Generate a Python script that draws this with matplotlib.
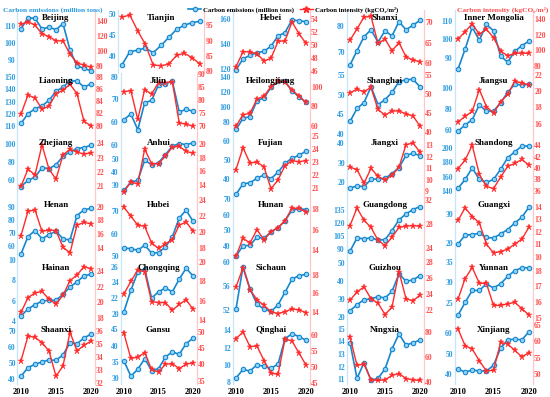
import matplotlib
matplotlib.use('Agg')
import matplotlib.pyplot as plt
from matplotlib.lines import Line2D

plt.rcParams['font.family'] = ['Liberation Serif', 'DejaVu Serif']
plt.rcParams['font.weight'] = 'bold'

# ---------------- data ----------------
years = [2010, 2011, 2012, 2013, 2014, 2015, 2016, 2017, 2018, 2019, 2020]
provinces = ['Beijing', 'Tianjin', 'Hebei', 'Shanxi', 'Inner Mongolia',
             'Liaoning', 'Jilin', 'Heilongjiang', 'Shanghai', 'Jiangsu',
             'Zhejiang', 'Anhui', 'Fujian', 'Jiangxi', 'Shandong',
             'Henan', 'Hubei', 'Hunan', 'Guangdong', 'Guangxi',
             'Hainan', 'Chongqing', 'Sichaun', 'Guizhou', 'Yunnan',
             'Shaanxi', 'Gansu', 'Qinghai', 'Ningxia', 'Xinjiang']
xtick_labels = [2010, 2015, 2020]

# carbon emissions (million tons) and carbon intensity (kgCO2/m2)
beijing_em = [108.5, 114.8, 114.8, 108.3, 109.4, 107.9, 111.5, 95.7, 86.2, 84.7, 83.3]
beijing_ci = [135.3, 138.6, 134.4, 122.7, 119, 113.3, 113.3, 95.5, 83.8, 80.9, 78.1]
tianjin_em = [37.9, 41, 41.4, 41.9, 40.8, 42.5, 44.4, 46.3, 47.3, 47.9, 48.2]
tianjin_ci = [97.6, 98.4, 93.3, 88.8, 82.1, 81.8, 82.4, 85.2, 85.9, 84.4, 82.4]
hebei_em = [119, 128, 130.8, 133, 134, 138.2, 146.4, 149.2, 159.4, 158.6, 158]
hebei_ci = [46.7, 49, 49, 48.7, 47.6, 48, 50.6, 50.7, 53.6, 51.8, 50.3]
shanxi_em = [64.9, 70.4, 75.9, 78.6, 73.8, 78.2, 76.2, 81.8, 78.6, 80.4, 82.3]
shanxi_ci = [65.6, 68.4, 71.3, 71.5, 64.8, 65.9, 63.0, 65.0, 61.5, 60.7, 60.3]
innermongolia_em = [84, 94.8, 106.6, 99.5, 108.1, 104.7, 91, 87.8, 93.5, 96.7, 99]
innermongolia_ci = [114.3, 124.1, 134, 120.7, 127.1, 116.4, 99, 93, 96, 96.5, 96]
liaoning_em = [112, 120, 124, 126.5, 131, 138.5, 142, 147, 147, 142, 144.5]
liaoning_ci = [81.9, 85, 84.5, 82.7, 83.2, 85.2, 85.8, 86.75, 85.2, 80.7, 80]
jilin_em = [61, 63.5, 56.5, 68.5, 69.5, 76.5, 77, 78, 64.5, 65.5, 64.8]
jilin_ci = [83.2, 83.6, 72.6, 84, 82.3, 86.7, 86.7, 87, 71.3, 70.8, 70]
heilongjiang_em = [70, 84.5, 87, 108, 112, 126, 134, 134, 121, 113.5, 106]
heilongjiang_ci = [60, 71.5, 73, 87.5, 90.5, 100, 105.5, 104.5, 96.5, 90.5, 84]
shanghai_em = [43.2, 46.5, 48, 52, 47.5, 48.7, 50.6, 53.3, 53.8, 53.9, 52]
shanghai_ci = [50.3, 51.2, 50.6, 51.7, 45.9, 44.4, 45.5, 45.5, 44.7, 44.2, 41.5]
jiangsu_em = [59, 65, 70, 84, 78, 78, 86, 96, 103.5, 103, 103.5]
jiangsu_ci = [16.2, 16.9, 17.5, 20.2, 18.1, 17.3, 18.7, 19.6, 21.25, 21.0, 20.8]
zhejiang_em = [52.6, 59.3, 63, 73.4, 72.3, 76.7, 86, 90.8, 94.5, 95.6, 98.2]
zhejiang_ci = [21, 22.2, 21.8, 23.9, 22.2, 21.5, 23.2, 23.6, 23.4, 23.25, 23.35]
anhui_em = [26.3, 32.5, 33.8, 48.8, 45.5, 47, 53, 59.3, 61.3, 60.5, 61.8]
anhui_ci = [13.1, 14.5, 14.2, 19.2, 17.1, 17.1, 18.2, 19.5, 19.6, 18.9, 18.6]
fujian_em = [31.7, 37.2, 37.8, 40.2, 41.9, 40, 43.3, 48, 50.8, 52.2, 54.5]
fujian_ci = [22.4, 24.1, 22.9, 23.0, 22.6, 20.9, 21.6, 22.7, 23.1, 23.0, 23.1]
jiangxi_em = [17, 18.2, 17.8, 21.5, 21.8, 22, 24.5, 27.5, 33.8, 34.9, 33.7]
jiangxi_ci = [11.1, 10.9, 9.7, 11.0, 10.3, 10.0, 10.4, 11.1, 13.05, 13.2, 12.4]
shandong_em = [144, 156, 172, 156, 152, 156, 170, 186, 194, 202, 202]
shandong_ci = [39.9, 41.4, 44, 38.9, 36.8, 36.4, 38.4, 40.3, 40.8, 41.5, 40.5]
henan_em = [54.2, 67.3, 71.9, 65.6, 68.8, 71.4, 65.6, 64.8, 83.2, 87.5, 88.7]
henan_ci = [15.8, 19.3, 19.5, 16.4, 16.6, 16.5, 14.1, 13.3, 17.3, 17.7, 17.5]
hubei_em = [53.5, 53.3, 52.5, 54.8, 51.3, 51.5, 54, 58.5, 67, 70.5, 65.5]
hubei_ci = [23.1, 22.0, 20.85, 20.7, 18.6, 17.9, 18.5, 19.0, 20.85, 21.25, 20.1]
hunan_em = [33.4, 40, 40.2, 45.6, 44.7, 49, 51.5, 56, 62.8, 63.7, 63.2]
hunan_ci = [13.4, 15.15, 14.7, 16.0, 15.0, 15.8, 16.2, 16.9, 18.1, 18.1, 17.75]
guangdong_em = [87.3, 102.6, 101.5, 102.6, 100.3, 100.6, 111, 123.2, 130, 135, 138.4]
guangdong_ci = [27.7, 30.6, 28.6, 27.4, 25.3, 24.4, 25.8, 27.4, 27.6, 27.7, 27.6]
guangxi_em = [19.8, 22.8, 23, 23.4, 22, 21.8, 23.2, 24.7, 26.9, 28.9, 32.3]
guangxi_ci = [12.9, 13.9, 13.2, 12.7, 11.0, 10.3, 10.4, 10.6, 11.0, 11.4, 12.35]
hainan_em = [4.47, 5.16, 5.6, 5.94, 6.03, 6.03, 6.6, 7.34, 7.84, 8.44, 8.6]
hainan_ci = [18.7, 20.6, 21.2, 21.4, 20.4, 19.8, 20.9, 22.8, 23.5, 24.6, 24.3]
chongqing_em = [20.3, 23, 25.3, 25.7, 22, 22.8, 23.3, 22.8, 24.4, 25.8, 24.8]
chongqing_ci = [16.7, 18.0, 19.2, 19.0, 15.9, 15.8, 15.8, 15.0, 15.6, 16.1, 15.1]
sichuan_em = [52.2, 59.3, 55.6, 53, 52.2, 51.8, 52.9, 55, 57.2, 57.8, 58]
sichuan_ci = [16.7, 18.8, 16.4, 15.3, 14.7, 14.0, 13.8, 14.0, 14.3, 14.2, 13.9]
guizhou_em = [23.7, 27, 29.8, 30.2, 31.5, 30.7, 34.4, 44.1, 40, 40.7, 43.1]
guizhou_ci = [23.25, 24.3, 24.9, 23.45, 22.9, 21.5, 22.4, 26.8, 23.45, 23.2, 23.9]
yunnan_em = [22, 25.1, 28, 28, 29.6, 28.6, 29.6, 31.4, 32.8, 33.5, 33.5]
yunnan_ci = [16.2, 17.5, 18.2, 17.2, 17.2, 15.8, 15.8, 15.9, 16.0, 15.6, 15.2]
shaanxi_em = [41.5, 47, 49, 50.5, 51.8, 51.5, 55, 62.5, 62, 65.5, 68]
shaanxi_ci = [33.7, 35.6, 35.5, 35.1, 34.45, 32.5, 33.3, 35.9, 34.45, 34.9, 35.2]
gansu_em = [35.3, 30.7, 32.8, 36, 32.4, 33, 36.5, 38.1, 37.3, 40.6, 42.2]
gansu_ci = [49.5, 41.8, 42.2, 43.6, 38.4, 37.6, 40, 40.2, 38.7, 40, 40.5]
qinghai_em = [8.5, 9.5, 9.3, 10.04, 9.84, 9.63, 10.1, 13.06, 13.6, 13.3, 12.86]
qinghai_ci = [58.9, 60.9, 56.4, 56.6, 52.1, 48.2, 47.8, 58.7, 58.2, 54.4, 50.7]
ningxia_em = [13.9, 11.05, 12.3, 10.9, 11.05, 11.8, 13.4, 14.6, 13.7, 13.9, 14.1]
ningxia_ci = [76, 53.5, 54.5, 42, 41.5, 42, 45.5, 47, 43, 42, 41.5]
xinjiang_em = [42.5, 41.1, 42.1, 41.6, 41.6, 44.4, 52.8, 56.9, 57.2, 56.9, 60.8]
xinjiang_ci = [63.8, 58.7, 57.7, 54.1, 51, 51.2, 59.7, 59.2, 57.3, 55.3, 56.6]

emissions = [beijing_em, tianjin_em, hebei_em, shanxi_em, innermongolia_em,
             liaoning_em, jilin_em, heilongjiang_em, shanghai_em, jiangsu_em,
             zhejiang_em, anhui_em, fujian_em, jiangxi_em, shandong_em,
             henan_em, hubei_em, hunan_em, guangdong_em, guangxi_em,
             hainan_em, chongqing_em, sichuan_em, guizhou_em, yunnan_em,
             shaanxi_em, gansu_em, qinghai_em, ningxia_em, xinjiang_em]
intensity = [beijing_ci, tianjin_ci, hebei_ci, shanxi_ci, innermongolia_ci,
             liaoning_ci, jilin_ci, heilongjiang_ci, shanghai_ci, jiangsu_ci,
             zhejiang_ci, anhui_ci, fujian_ci, jiangxi_ci, shandong_ci,
             henan_ci, hubei_ci, hunan_ci, guangdong_ci, guangxi_ci,
             hainan_ci, chongqing_ci, sichuan_ci, guizhou_ci, yunnan_ci,
             shaanxi_ci, gansu_ci, qinghai_ci, ningxia_ci, xinjiang_ci]

# ---------------- axis scales (layout) ----------------
# (left ylim, left ticks, right ylim, right ticks)
scales = [
    ((82.2, 119.5), [90, 100, 110], (71, 154), [80, 100, 120, 140]),
    ((36.1, 50.8), [40, 45, 50], (79.6, 99.9), [80, 85, 90, 95]),
    ((116.9, 167.1), [120, 140, 160], (45.8, 55.4), [46, 48, 50, 52, 54]),
    ((61.9, 86.2), [70, 80], (57.6, 73.0), [60, 65, 70]),
    ((82.1, 115.7), [90, 100, 110], (71.4, 151.4), [80, 100, 120, 140]),
    ((102.5, 153.9), [110, 120, 130, 140, 150], (78.5, 88.65), [80, 82, 84, 86, 88]),
    ((54.2, 81.9), [60, 70, 80], (66.7, 90.5), [70, 75, 80, 85, 90]),
    ((62.6, 145.6), [80, 100, 120, 140], (51.1, 114.3), [60, 80, 100]),
    ((39.8, 55.6), [40, 45, 50, 55], (39.2, 55.6), [40, 45, 50, 55]),
    ((55.5, 114.7), [60, 80, 100], (14.6, 22.3), [16, 18, 20, 22]),
    ((40.8, 109.6), [60, 80, 100], (20.24, 24.6), [21, 22, 23, 24]),
    ((21.25, 67.75), [30, 40, 50, 60], (12.3, 21.25), [14, 16, 18, 20]),
    ((30.2, 63), [40, 50, 60], (20.25, 25.1), [21, 22, 23, 24, 25]),
    ((12.4, 44.3), [20, 30, 40], (8.5, 13.9), [9, 10, 11, 12, 13]),
    ((131.6, 217.4), [140, 160, 180, 200], (34.9, 45.8), [36, 38, 40, 42, 44]),
    ((50, 97.05), [60, 70, 80, 90], (12.33, 21.35), [14, 16, 18, 20]),
    ((48.4, 76.3), [50, 60, 70], (16.5, 24.4), [18, 20, 22, 24]),
    ((31.2, 71.1), [40, 50, 60, 70], (13.06, 19.2), [14, 16, 18]),
    ((77.9, 149.1), [90, 105, 120, 135], (22.1, 32.4), [24, 28, 32]),
    ((14.5, 35.7), [20, 30], (9.77, 14.75), [10, 11, 12, 13, 14]),
    ((3.9, 10.05), [4, 6, 8, 10], (17.5, 25.5), [18, 20, 22, 24]),
    ((19.0, 26.9), [20, 22, 24, 26], (13.8, 20.28), [14, 16, 18, 20]),
    ((50.06, 60.5), [52, 56, 60], (12.9, 19.7), [14, 16, 18]),
    ((17.6, 52), [20, 30, 40, 50], (20.6, 28.3), [22, 24, 26, 28]),
    ((20.4, 35.5), [25, 30, 35], (14.77, 18.7), [15, 16, 17, 18]),
    ((36.6, 75.7), [40, 50, 60, 70], (31.9, 36.7), [32, 33, 34, 35, 36]),
    ((28.3, 47.2), [30, 35, 40, 45], (33.9, 53.1), [35, 40, 45, 50]),
    ((7.8, 15.0), [8, 10, 12, 14], (44.8, 64.1), [45, 50, 55, 60]),
    ((10.6, 15.56), [11, 12, 13, 14, 15], (38.6, 88.2), [40, 60, 80]),
    ((35.2, 65.7), [40, 50, 60], (47, 66), [50, 55, 60, 65]),
]

BLUE = '#1787cf'
BLUE_FACE = '#8fd3f7'
BLUE_TXT = '#2d9be0'
RED = '#ff2b2b'
RED_TXT = '#ff4d4d'
SPINE_BLUE = '#c4e6f8'
SPINE_RED = '#ffc8c8'

W, H = 550, 397
fig = plt.figure(figsize=(5.5, 3.97), dpi=100)
fig.patch.set_facecolor('white')

col_l = [17.5, 120.5, 232.5, 346.5, 454.5]
col_r = [94.5, 196.5, 309.5, 423.5, 532.5]
row_top0, row_h = 10.3, 62.3

for i, name in enumerate(provinces):
    r, c = divmod(i, 5)
    l, rr = col_l[c], col_r[c]
    if name == 'Tianjin':
        l, rr = 118, 204
    top = row_top0 + row_h * r
    ax = fig.add_axes([l / W, 1 - (top + row_h) / H, (rr - l) / W, row_h / H])
    ax2 = ax.twinx()
    ax.plot(years, emissions[i], color=BLUE, lw=1.2, marker='o', ms=3.2,
            mfc=BLUE_FACE, mec=BLUE, mew=0.8, zorder=3)
    ax2.plot(years, intensity[i], color=RED, lw=1.0, marker='*', ms=4.5,
             mfc=RED, mec=RED, mew=0.3)
    bl, bt, rl, rt = scales[i]
    ax.set_xlim(2009.5, 2020.5)
    ax.set_ylim(*bl)
    ax.set_yticks(bt)
    ax2.set_ylim(*rl)
    ax2.set_yticks(rt)
    for a in (ax, ax2):
        a.spines['top'].set_visible(False)
        a.spines['bottom'].set_visible(False)
        a.patch.set_visible(False)
    ax.spines['right'].set_visible(False)
    ax2.spines['left'].set_visible(False)
    ax.spines['left'].set_color(SPINE_BLUE)
    ax.spines['left'].set_linewidth(0.9)
    ax2.spines['right'].set_color(SPINE_RED)
    ax2.spines['right'].set_linewidth(0.9)
    ax.tick_params(axis='y', length=0, pad=1.2, labelsize=5.5, labelcolor=BLUE_TXT)
    ax2.tick_params(axis='y', length=0, pad=1.2, labelsize=5.5, labelcolor=RED_TXT)
    ax.set_xticks(xtick_labels)
    if r == 5:
        ax.tick_params(axis='x', length=0, pad=2.5, labelsize=6)
    else:
        ax.tick_params(axis='x', length=0, labelbottom=False)
    ax2.text(0.5, 0.87, name, transform=ax.transAxes, ha='center', va='center',
             fontsize=6.5, fontweight='bold', color='black', zorder=5)

fig.text(3 / W, 1 - 10 / H, 'Carbon emissions (million tons)', color=BLUE_TXT,
         fontsize=5.3, fontweight='bold', ha='left', va='center')
fig.text(548 / W, 1 - 10 / H, 'Carbon intensity (kgCO\u2082/m\u00b2)', color=RED_TXT,
         fontsize=5.3, fontweight='bold', ha='right', va='center')

handles = [Line2D([], [], color=BLUE, lw=1.2, marker='o', ms=3.2, mfc=BLUE_FACE, mec=BLUE, mew=0.8),
           Line2D([], [], color=RED, lw=1.0, marker='*', ms=4.5, mfc=RED, mec=RED)]
fig.legend(handles, ['Carbon emissions (million tons)', 'Carbon intensity (kgCO\u2082/m\u00b2)'],
           loc='center', bbox_to_anchor=(293 / W, 1 - 10 / H), ncol=2, frameon=False,
           fontsize=4.8, handlelength=2.0, handletextpad=0.3, columnspacing=0.8,
           borderpad=0, borderaxespad=0)

fig.savefig('out.png', dpi=100, facecolor='white')
